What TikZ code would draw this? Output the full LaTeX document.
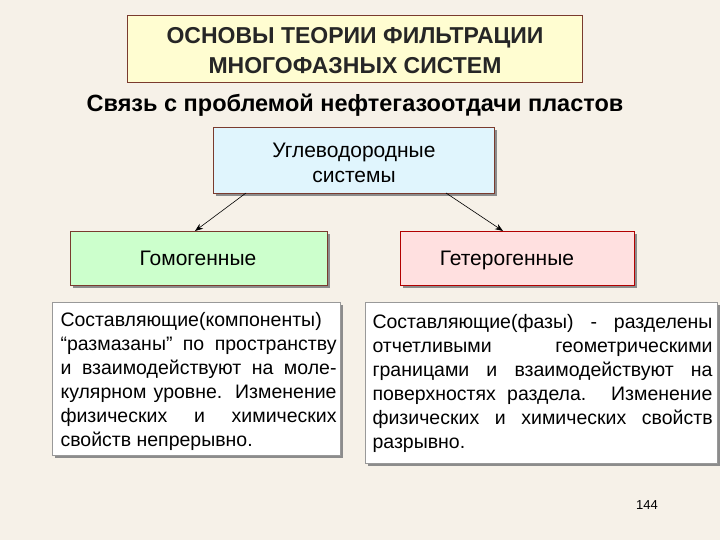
\documentclass[tikz,border=0pt]{standalone}
\usepackage{fontspec}
\setmainfont{Liberation Sans}
\usetikzlibrary{arrows.meta,shadows}
\definecolor{bg}{HTML}{F6F1E8}
\definecolor{bord}{HTML}{7A3B2E}
\tikzset{
 box/.style={draw=bord,line width=0.8pt,inner sep=0pt,anchor=north west},
 conn/.style={-{Stealth[length=8pt,width=6pt]},line width=0.6pt},
 sh/.style={drop shadow={shadow xshift=3pt,shadow yshift=-3pt,fill=black!45,opacity=1}},
}
\newcommand{\jl}[2]{\makebox[#1][s]{#2}}
\begin{document}
\begin{tikzpicture}[x=1pt,y=-1pt]
\fill[bg] (0,0) rectangle (720,540);
\useasboundingbox (0,0) rectangle (720,540);
\node[box,fill=yellow!18,minimum width=455pt,minimum height=67pt] (title) at (127,15) {};
\node[font=\fontsize{23}{30}\selectfont\bfseries,align=center,text=black!85] (tt) at (355,51) {ОСНОВЫ ТЕОРИИ ФИЛЬТРАЦИИ\\МНОГОФАЗНЫХ СИСТЕМ};
\node[font=\fontsize{23.5}{26}\selectfont\bfseries] (sub) at (355,105) {Связь с проблемой нефтегазоотдачи пластов};
\node[box,sh,fill=cyan!12,minimum width=281pt,minimum height=66pt] (uv) at (213,127) {};
\node[font=\fontsize{21}{25}\selectfont,align=center] (uvt) at (354,163) {Углеводородные\\системы};
\node[box,sh,fill=green!20,minimum width=257pt,minimum height=54pt] (gom) at (70,231) {};
\node[font=\fontsize{21}{24}\selectfont,anchor=base] (gomt) at (198,265) {Гомогенные};
\node[box,sh,draw=red!70!black,fill=red!12,minimum width=234pt,minimum height=54pt] (get) at (400,231) {};
\node[font=\fontsize{21}{24}\selectfont,anchor=base] (gett) at (507,265) {Гетерогенные};
\coordinate (a1) at (246,193); \coordinate (a2) at (446,193);
\draw[conn] (a1) -- (gom.north -| 195,0);
\draw[conn] (a2) -- (get.north -| 503,0);
\node[box,sh,draw=black!40,fill=white,minimum width=288pt,minimum height=153pt] (lt) at (52,302) {};
\node[font=\fontsize{19.5}{24}\selectfont,align=left,anchor=north west] (ltt) at (57,309)
 {\jl{276pt}{Составляющие(компоненты)}\\\jl{276pt}{“размазаны” по пространству}\\\jl{276pt}{и взаимодействуют на моле-}\\\jl{276pt}{кулярном уровне. Изменение}\\\jl{276pt}{физических и химических}\\свойств непрерывно.};
\node[box,sh,draw=black!40,fill=white,minimum width=352pt,minimum height=161pt] (rt) at (365,302) {};
\node[font=\fontsize{19.5}{24}\selectfont,align=left,anchor=north west] (rtt) at (369,311)
 {\jl{340pt}{Составляющие(фазы) - разделены}\\\jl{340pt}{отчетливыми геометрическими}\\\jl{340pt}{границами и взаимодействуют на}\\\jl{340pt}{поверхностях раздела. Изменение}\\\jl{340pt}{физических и химических свойств}\\разрывно.};
\node[font=\fontsize{13}{15}\selectfont] (pg) at (647,505) {144};
\end{tikzpicture}
\end{document}
